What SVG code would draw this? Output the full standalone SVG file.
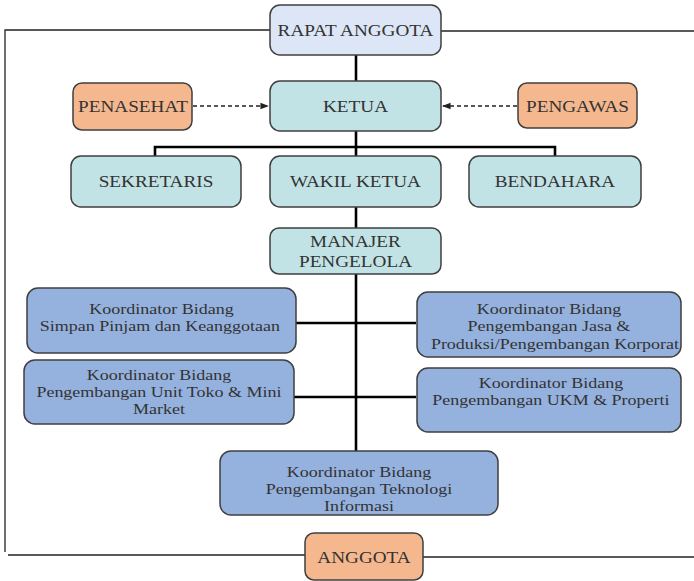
<svg xmlns="http://www.w3.org/2000/svg" width="694" height="581" viewBox="0 0 694 581">
<style>
.box{stroke:#3f3f3f;stroke-width:1.5}
.lav{fill:#dde6f6}
.teal{fill:#c2e3e6}
.org{fill:#f5b88e}
.blue{fill:#95b2df}
text{font-family:"Liberation Serif","Times New Roman",serif;fill:#333;text-anchor:middle;transform-box:fill-box;transform-origin:center}
.t{font-size:17px;transform:scaleX(1.13)}
.s{font-size:15px;transform:scaleX(1.2)}
.tree{stroke:#000;stroke-width:2.6;fill:none}
.outer{stroke:#222;stroke-width:1.3;fill:none}
.dash{stroke:#222;stroke-width:1.4;stroke-dasharray:4 3;fill:none}
</style>
<defs>
<marker id="ah" viewBox="0 0 10 10" refX="9" refY="5" markerWidth="6" markerHeight="6" orient="auto">
<path d="M0,1 L10,5 L0,9 z" fill="#222"/>
</marker>
</defs>
<g id="connectors">
<path class="outer" d="M270,30 H5 V552"/>
<path class="outer" d="M441,31 H694"/>
<path class="outer" d="M8,555 H305"/>
<path class="outer" d="M423,557 H694"/>
<path class="tree" d="M356,55 V81"/>
<path class="tree" d="M356,131 V147"/>
<path class="tree" d="M155,156 V147 H555 V156"/>
<path class="tree" d="M356,147 V156"/>
<path class="tree" d="M356,207 V228"/>
<path class="tree" d="M356,274 V451"/>
<path class="tree" d="M296,323 H416"/>
<path class="tree" d="M294,397 H416"/>
<path class="dash" d="M193,106 H268" marker-end="url(#ah)"/>
<path class="dash" d="M517,106 H443" marker-end="url(#ah)"/>
</g>
<g id="rapat-anggota"><rect class="box lav" x="270" y="5" width="171" height="50" rx="10"/><text class="t" x="355.5" y="36">RAPAT ANGGOTA</text></g>
<g id="penasehat"><rect class="box org" x="73" y="83" width="119" height="47" rx="9"/><text class="t" x="133" y="112">PENASEHAT</text></g>
<g id="ketua"><rect class="box teal" x="270" y="81" width="171" height="50" rx="10"/><text class="t" x="355.5" y="112">KETUA</text></g>
<g id="pengawas"><rect class="box org" x="518" y="83" width="119" height="45" rx="9"/><text class="t" x="577.5" y="112">PENGAWAS</text></g>
<g id="sekretaris"><rect class="box teal" x="71" y="156" width="170" height="51" rx="10"/><text class="t" x="156" y="187">SEKRETARIS</text></g>
<g id="wakil-ketua"><rect class="box teal" x="270" y="156" width="171" height="51" rx="10"/><text class="t" x="355.5" y="187">WAKIL KETUA</text></g>
<g id="bendahara"><rect class="box teal" x="469" y="156" width="172" height="51" rx="10"/><text class="t" x="555" y="187">BENDAHARA</text></g>
<g id="manajer"><rect class="box teal" x="270" y="228" width="171" height="46" rx="9"/><text class="t" x="355.5" y="247">MANAJER</text><text class="t" x="355.5" y="267">PENGELOLA</text></g>
<g id="simpan-pinjam"><rect class="box blue" x="27" y="288" width="269" height="65" rx="11"/><text class="s" x="161.5" y="314">Koordinator Bidang</text><text class="s" x="160" y="331">Simpan Pinjam  dan Keanggotaan</text></g>
<g id="jasa"><rect class="box blue" x="417" y="292" width="264" height="65" rx="11"/><text class="s" x="549" y="314">Koordinator Bidang</text><text class="s" x="549" y="331">Pengembangan Jasa &amp;</text><text class="s" x="555" y="349">Produksi/Pengembangan Korporat</text></g>
<g id="toko"><rect class="box blue" x="24" y="360" width="270" height="64" rx="11"/><text class="s" x="159" y="380">Koordinator Bidang</text><text class="s" x="159" y="397">Pengembangan Unit Toko &amp; Mini</text><text class="s" x="159" y="414">Market</text></g>
<g id="ukm"><rect class="box blue" x="417" y="368" width="264" height="64" rx="11"/><text class="s" x="551" y="388">Koordinator Bidang</text><text class="s" x="551" y="405">Pengembangan UKM &amp; Properti</text></g>
<g id="teknologi"><rect class="box blue" x="220" y="451" width="278" height="64" rx="11"/><text class="s" x="359" y="477">Koordinator Bidang</text><text class="s" x="359" y="494">Pengembangan Teknologi</text><text class="s" x="359" y="511">Informasi</text></g>
<g id="anggota"><rect class="box org" x="305" y="533" width="118" height="47" rx="9"/><text class="t" x="364" y="563">ANGGOTA</text></g>
</svg>
